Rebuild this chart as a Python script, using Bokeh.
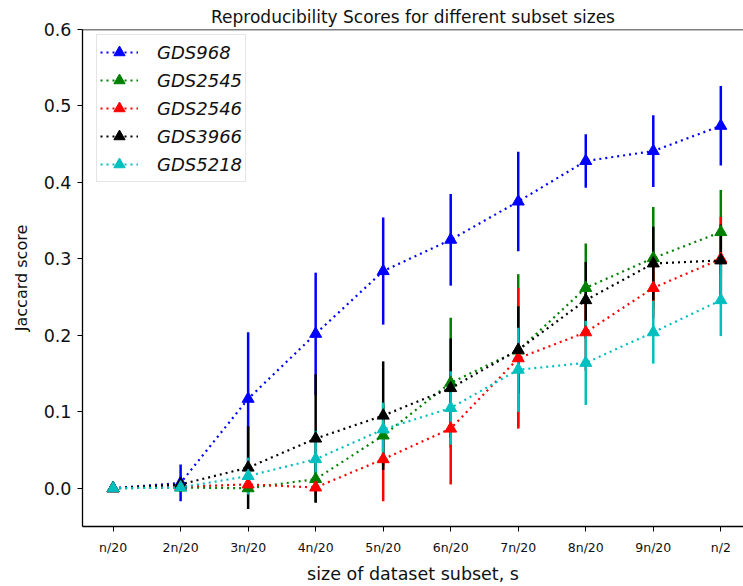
import numpy as np
from bokeh.plotting import figure
from bokeh.models import Range1d, FixedTicker, Legend, LegendItem, Span
from bokeh.embed import file_html
from bokeh.resources import INLINE

# subset sizes along the x axis
x_labels = ["n/20", "2n/20", "3n/20", "4n/20", "5n/20",
            "6n/20", "7n/20", "8n/20", "9n/20", "n/2"]

series_names = ["GDS968", "GDS2545", "GDS2546", "GDS3966", "GDS5218"]
series_colors = ["#0000ff", "#008000", "#ff0000", "#000000", "#00bfbf"]

# mean Jaccard scores and their spread per dataset
gds968 = [0.0, 0.007, 0.117, 0.202, 0.284, 0.325, 0.375, 0.428, 0.441, 0.474]
gds968_err = [0.0, 0.024, 0.087, 0.080, 0.070, 0.060, 0.065, 0.035, 0.047, 0.052]

gds2545 = [0.0, 0.001, 0.0, 0.012, 0.069, 0.138, 0.180, 0.262, 0.301, 0.335]
gds2545_err = [0.0, 0.003, 0.004, 0.030, 0.040, 0.085, 0.100, 0.058, 0.067, 0.055]

gds2546 = [0.0, 0.002, 0.005, 0.001, 0.038, 0.078, 0.170, 0.204, 0.262, 0.300]
gds2546_err = [0.0, 0.003, 0.005, 0.010, 0.055, 0.073, 0.092, 0.050, 0.040, 0.055]

gds3966 = [0.0, 0.005, 0.027, 0.065, 0.095, 0.131, 0.181, 0.246, 0.294, 0.298]
gds3966_err = [0.0, 0.010, 0.054, 0.084, 0.071, 0.065, 0.057, 0.050, 0.048, 0.047]

gds5218 = [0.0, 0.001, 0.016, 0.038, 0.077, 0.105, 0.155, 0.164, 0.204, 0.246]
gds5218_err = [0.0, 0.004, 0.024, 0.037, 0.035, 0.048, 0.055, 0.055, 0.041, 0.047]

means = [gds968, gds2545, gds2546, gds3966, gds5218]
errors = [gds968_err, gds2545_err, gds2546_err, gds3966_err, gds5218_err]

FONT = "DejaVu Sans"
x = np.arange(1, len(x_labels) + 1)

p = figure(width=743, height=586, output_backend="svg", toolbar_location=None,
           x_range=Range1d(0.547, 10.336), y_range=Range1d(-0.05, 0.6),
           min_border_left=82, min_border_right=0, min_border_top=29,
           min_border_bottom=59,
           title="Reproducibility Scores for different subset sizes")

p.grid.visible = False
p.outline_line_color = None
p.background_fill_color = "white"
p.border_fill_color = "white"

p.title.text_font = FONT
p.title.text_font_size = "17px"
p.title.text_font_style = "normal"
p.title.align = "center"
p.title.text_color = "#111111"
p.title.standoff = 6

# top spine
p.add_layout(Span(location=0.6, dimension="width", line_color="black", line_width=1.3))

# axes
p.xaxis.ticker = FixedTicker(ticks=list(x))
p.xaxis.major_label_overrides = {int(i): lab for i, lab in zip(x, x_labels)}
p.yaxis.ticker = FixedTicker(ticks=[0.0, 0.1, 0.2, 0.3, 0.4, 0.5, 0.6])
p.yaxis.major_label_overrides = {0.0: "0.0", 0.1: "0.1", 0.2: "0.2", 0.3: "0.3",
                                 0.4: "0.4", 0.5: "0.5", 0.6: "0.6"}
for ax in (p.xaxis, p.yaxis):
    ax.axis_line_color = "black"
    ax.axis_line_width = 1.3
    ax.major_tick_line_color = "black"
    ax.major_tick_line_width = 1
    ax.major_tick_in = 0
    ax.major_tick_out = 5
    ax.minor_tick_line_color = None
    ax.major_label_text_font = FONT
    ax.major_label_text_color = "#111111"
    ax.axis_label_text_font = FONT
    ax.axis_label_text_font_style = "normal"
    ax.axis_label_text_color = "#111111"

p.xaxis.major_label_text_font_size = "12.5px"
p.xaxis.major_label_standoff = 8
p.xaxis.axis_label = "size of dataset subset, s"
p.xaxis.axis_label_text_font_size = "17.5px"
p.xaxis.axis_label_standoff = 6

p.yaxis.major_label_text_font_size = "17.5px"
p.yaxis.major_label_standoff = 6
p.yaxis.axis_label = "Jaccard score"
p.yaxis.axis_label_text_font_size = "16px"
p.yaxis.axis_label_standoff = 10

# error bars go underneath every data line
for y, e, c in zip(means, errors, series_colors):
    y = np.asarray(y)
    e = np.asarray(e)
    p.segment(x0=x, y0=y - e, x1=x, y1=y + e, line_color=c, line_width=2.5)

items = []
for name, y, c in zip(series_names, means, series_colors):
    ln = p.line(x, y, line_color=c, line_width=2.2, line_dash="2 4")
    mk = p.scatter(x, y, marker="triangle", size=12, fill_color=c, line_color=c)
    items.append(LegendItem(label=name, renderers=[ln, mk]))

legend = Legend(items=items, location=(14, 344))
legend.label_text_font = FONT
legend.label_text_font_size = "18px"
legend.label_text_font_style = "italic"
legend.label_text_color = "#111111"
legend.border_line_color = "#cccccc"
legend.border_line_width = 1
legend.background_fill_alpha = 0.8
legend.glyph_width = 38
legend.glyph_height = 28
legend.label_height = 20
legend.label_standoff = 19
legend.spacing = 0
legend.padding = 3
legend.margin = 0
p.add_layout(legend)

open("out.html", "w").write(file_html(p, INLINE))
